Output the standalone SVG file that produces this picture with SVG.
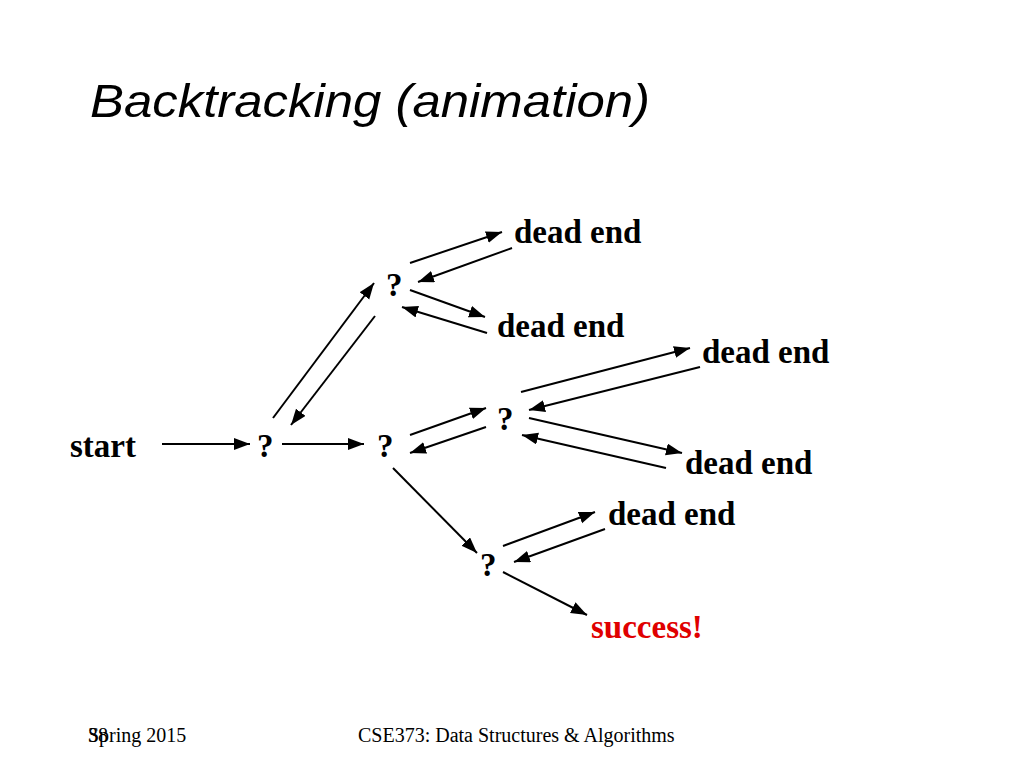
<svg xmlns="http://www.w3.org/2000/svg" width="1024" height="768" viewBox="0 0 1024 768">
<style>
.t{font-family:"Liberation Serif",serif;font-weight:bold;font-size:33px;fill:#000}
.f{font-family:"Liberation Serif",serif;font-size:20px;fill:#000}
line{stroke:#000;stroke-width:2;marker-end:url(#ah)}
</style>
<defs><marker id="ah" markerUnits="userSpaceOnUse" markerWidth="18" markerHeight="14" refX="16" refY="6" orient="auto"><path d="M0,0 L16,6 L0,12 Z" fill="#000"/></marker></defs>
<rect width="1024" height="768" fill="#fff"/>
<text x="90" y="117" font-family="Liberation Sans,sans-serif" font-style="italic" font-size="46" textLength="560" lengthAdjust="spacingAndGlyphs">Backtracking (animation)</text>
<g id="n_start"><text class="t" x="70" y="457">start</text></g>
<g id="n_q1"><text class="t" x="257" y="457">?</text></g>
<g id="n_q2"><text class="t" x="377" y="457">?</text></g>
<g id="n_q3"><text class="t" x="386" y="296">?</text></g>
<g id="n_de1"><text class="t" x="514" y="243">dead end</text></g>
<g id="n_de2"><text class="t" x="497" y="337">dead end</text></g>
<g id="n_q4"><text class="t" x="497" y="430">?</text></g>
<g id="n_de3"><text class="t" x="702" y="363">dead end</text></g>
<g id="n_de4"><text class="t" x="685" y="474">dead end</text></g>
<g id="n_q5"><text class="t" x="480" y="576">?</text></g>
<g id="n_de5"><text class="t" x="608" y="525">dead end</text></g>
<g id="n_succ"><text class="t" x="591" y="638" style="fill:#e00000">success!</text></g>
<g id="connectors">
<line x1="162" y1="444" x2="250" y2="444"/>
<line x1="282" y1="444" x2="364" y2="444"/>
<line x1="273" y1="418" x2="374" y2="283"/>
<line x1="375" y1="316" x2="291" y2="425"/>
<line x1="410" y1="263" x2="502" y2="232"/>
<line x1="512" y1="248" x2="418" y2="282"/>
<line x1="410" y1="290" x2="485" y2="317"/>
<line x1="487" y1="333" x2="402" y2="307"/>
<line x1="410" y1="435" x2="486" y2="408"/>
<line x1="486" y1="427" x2="410" y2="453"/>
<line x1="521" y1="392" x2="690" y2="348"/>
<line x1="700" y1="367" x2="529" y2="410"/>
<line x1="529" y1="418" x2="682" y2="453"/>
<line x1="666" y1="468" x2="522" y2="435"/>
<line x1="393" y1="468" x2="477" y2="553"/>
<line x1="503" y1="546" x2="595" y2="512"/>
<line x1="605" y1="529" x2="514" y2="562"/>
<line x1="503" y1="572" x2="587" y2="615"/>
</g>
<text class="f" x="88" y="742">38</text>
<text class="f" x="88" y="742">Spring 2015</text>
<text class="f" x="358" y="742">CSE373: Data Structures &amp; Algorithms</text>
</svg>
